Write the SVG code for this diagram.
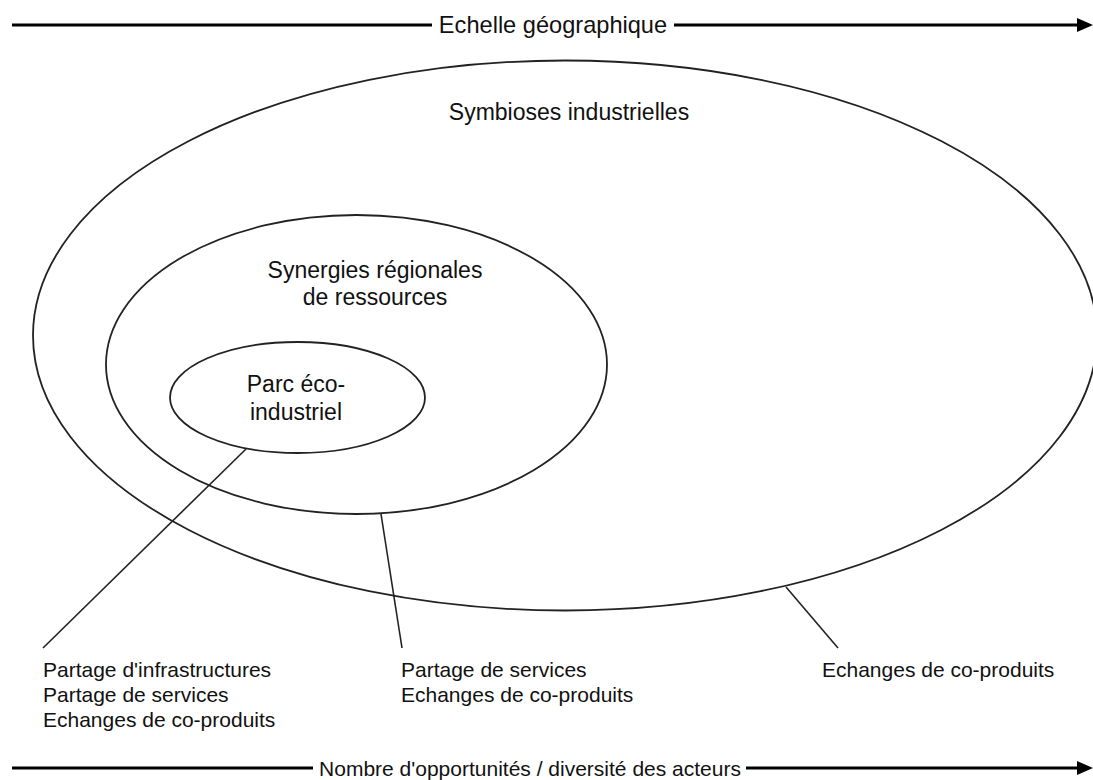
<svg xmlns="http://www.w3.org/2000/svg" width="1093" height="780" viewBox="0 0 1093 780">
<style>
text{font-family:"Liberation Sans",Arial,sans-serif;fill:#111}
.big{font-size:23px;text-anchor:middle}
.ax{text-anchor:middle}
.lb{font-size:21px}
.ell{fill:none;stroke:#222;stroke-width:1.8}
.ln{stroke:#222;stroke-width:1.6;fill:none}
.axl{stroke:#000;stroke-width:3.2;fill:none}
</style>
<defs>
<marker id="ah" markerWidth="16" markerHeight="14" refX="1" refY="7" orient="auto" markerUnits="userSpaceOnUse"><path d="M0,0 L16,7 L0,14 z" fill="#000"/></marker>
</defs>
<rect width="1093" height="780" fill="#fff"/>
<g id="axis-top">
<line class="axl" x1="12" y1="25" x2="432" y2="25"/>
<line class="axl" x1="674" y1="25" x2="1078" y2="25" marker-end="url(#ah)"/>
<text class="ax" x="553" y="33" font-size="23.6">Echelle géographique</text>
</g>
<g id="axis-bottom">
<line class="axl" x1="12" y1="768" x2="313" y2="768"/>
<line class="axl" x1="746" y1="768" x2="1078" y2="768" marker-end="url(#ah)"/>
<text class="ax" x="530" y="775.5" font-size="21">Nombre d'opportunités / diversité des acteurs</text>
</g>
<g id="symbioses">
<ellipse class="ell" cx="565" cy="335.5" rx="532" ry="275"/>
<text class="big" x="569" y="120">Symbioses industrielles</text>
</g>
<g id="synergies">
<ellipse class="ell" cx="356.5" cy="364.5" rx="250.5" ry="149.5"/>
<text class="big" x="375" y="278">Synergies régionales</text>
<text class="big" x="375" y="305">de ressources</text>
</g>
<g id="parc">
<ellipse class="ell" cx="297.5" cy="397.5" rx="127.5" ry="55.5"/>
<text class="big" x="296" y="392">Parc éco-</text>
<text class="big" x="296" y="420">industriel</text>
</g>
<g id="connectors">
<line class="ln" x1="246" y1="449" x2="43" y2="648"/>
<line class="ln" x1="381" y1="514" x2="402" y2="648"/>
<line class="ln" x1="786" y1="587" x2="838" y2="648"/>
</g>
<g id="label-parc">
<text class="lb" x="43" y="677">Partage d'infrastructures</text>
<text class="lb" x="43" y="702">Partage de services</text>
<text class="lb" x="43" y="727">Echanges de co-produits</text>
</g>
<g id="label-synergies">
<text class="lb" x="401" y="677">Partage de services</text>
<text class="lb" x="401" y="702">Echanges de co-produits</text>
</g>
<g id="label-symbioses">
<text class="lb" x="822" y="677">Echanges de co-produits</text>
</g>
</svg>
